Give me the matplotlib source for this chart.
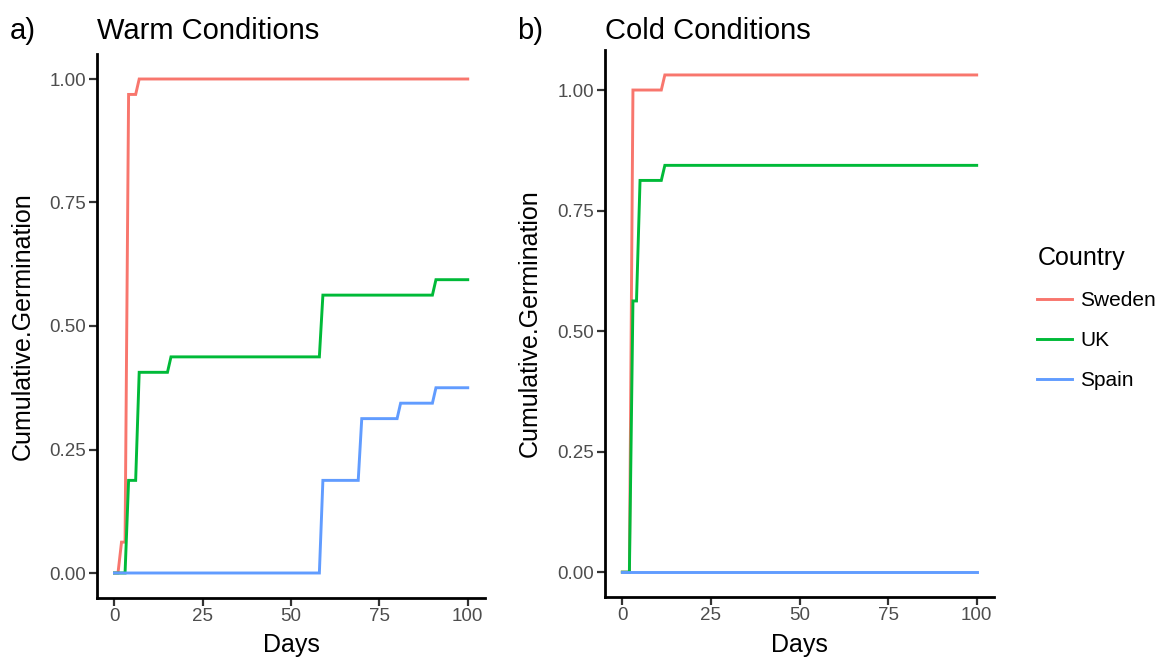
import matplotlib
matplotlib.use("Agg")
import matplotlib.pyplot as plt

plt.rcParams['font.family'] = ['Liberation Sans', 'DejaVu Sans']

# Country colours (ggplot hue palette)
countries = ["Sweden", "UK", "Spain"]
colors = ["#F8766D", "#00BA38", "#619CFF"]

# Warm conditions: day of observation and cumulative germination
warm_sweden_days = [0, 1, 2, 3, 4, 6, 7, 100]
warm_sweden = [0, 0, 0.0625, 0.0625, 0.96875, 0.96875, 1.0, 1.0]
warm_uk_days = [0, 3, 4, 6, 7, 15, 16, 58, 59, 90, 91, 100]
warm_uk = [0, 0, 0.1875, 0.1875, 0.40625, 0.40625, 0.4375, 0.4375,
           0.5625, 0.5625, 0.59375, 0.59375]
warm_spain_days = [0, 58, 59, 69, 70, 80, 81, 90, 91, 100]
warm_spain = [0, 0, 0.1875, 0.1875, 0.3125, 0.3125, 0.34375, 0.34375,
              0.375, 0.375]

# Cold conditions
cold_sweden_days = [0, 2, 3, 11, 12, 100]
cold_sweden = [0, 0, 1.0, 1.0, 1.03125, 1.03125]
cold_uk_days = [0, 2, 3, 4, 5, 11, 12, 100]
cold_uk = [0, 0, 0.5625, 0.5625, 0.8125, 0.8125, 0.84375, 0.84375]
cold_spain_days = [0, 100]
cold_spain = [0, 0]

x_ticks = [0, 25, 50, 75, 100]
y_ticks = [0, 0.25, 0.5, 0.75, 1.0]
y_tick_labels = ["0.00", "0.25", "0.50", "0.75", "1.00"]

W, H = 1166, 661
fig = plt.figure(figsize=(W / 100, H / 100), dpi=100)


def px_axes(left, top, right, bottom):
    return fig.add_axes([left / W, 1 - bottom / H, (right - left) / W,
                         (bottom - top) / H])


ax_warm = px_axes(96.8, 54.3, 485.4, 597.7)
ax_cold = px_axes(604.6, 50.1, 994.4, 597.0)

panels = [
    (ax_warm, [(warm_sweden_days, warm_sweden), (warm_uk_days, warm_uk),
               (warm_spain_days, warm_spain)]),
    (ax_cold, [(cold_sweden_days, cold_sweden), (cold_uk_days, cold_uk),
               (cold_spain_days, cold_spain)]),
]

handles = []
for ax, series in panels:
    for (days, vals), name, col in zip(series, countries, colors):
        ln, = ax.plot(days, vals, color=col, lw=2.1, label=name,
                      solid_joinstyle='miter')
        if ax is ax_warm:
            handles.append(ln)
    ymax = max(max(v) for _, v in series)
    pad = 0.05 * ymax
    ax.set_ylim(-pad, ymax + pad)
    ax.set_xlim(-5, 105)
    ax.set_xticks(x_ticks)
    ax.set_xticklabels([str(t) for t in x_ticks])
    ax.set_yticks(y_ticks)
    ax.set_yticklabels(y_tick_labels)
    for s in ("top", "right"):
        ax.spines[s].set_visible(False)
    for s in ("left", "bottom"):
        ax.spines[s].set_linewidth(2.0)
        ax.spines[s].set_color("black")
    ax.tick_params(axis="both", length=5.5, width=1.6, color="#333333",
                   labelsize=13.5, labelcolor="#4D4D4D", pad=2)

# Panel tags and titles
fig.text(10 / W, 1 - 39 / H, "a)", fontsize=21, va="baseline", ha="left")
fig.text(97 / W, 1 - 39 / H, "Warm Conditions", fontsize=21,
         va="baseline", ha="left")
fig.text(517 / W, 1 - 39 / H, "b)", fontsize=21, va="baseline", ha="left")
fig.text(605 / W, 1 - 39 / H, "Cold Conditions", fontsize=21,
         va="baseline", ha="left")

# Axis titles
fig.text(291 / W, 1 - 652 / H, "Days", fontsize=18, ha="center",
         va="baseline")
fig.text(799.5 / W, 1 - 652 / H, "Days", fontsize=18, ha="center",
         va="baseline")
fig.text(23 / W, 1 - 326 / H, "Cumulative.Germination", fontsize=18,
         rotation=90, ha="center", va="center")
fig.text(530 / W, 1 - 323.5 / H, "Cumulative.Germination", fontsize=18,
         rotation=90, ha="center", va="center")

leg = fig.legend(handles=handles, labels=countries, title="Country",
                 loc="upper left", bbox_to_anchor=(1029 / W, 1 - 238 / H),
                 frameon=False, fontsize=15, title_fontsize=18,
                 handlelength=1.65, handletextpad=0.4, labelspacing=1.0,
                 alignment="left", borderaxespad=0)

fig.savefig("out.png", dpi=100, facecolor="white")
